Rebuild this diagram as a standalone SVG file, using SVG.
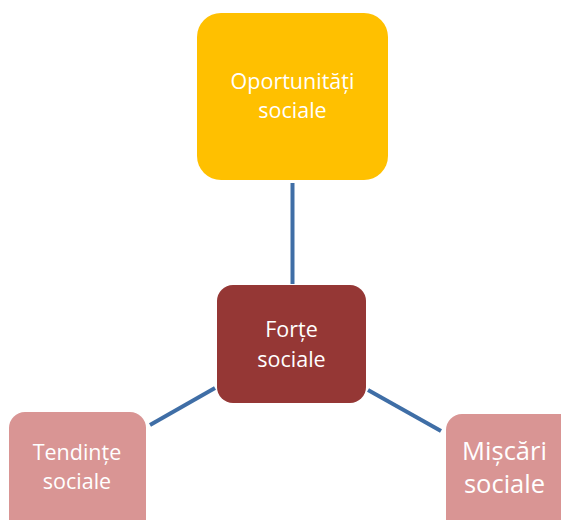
<svg xmlns="http://www.w3.org/2000/svg" width="561" height="520" viewBox="0 0 561 520">
<style>
.lbl{font-family:"Open Sans","Noto Sans",sans-serif;fill:#ffffff;text-anchor:middle;font-size:21.5px}
.big{font-size:25.5px}
.conn line{stroke:#3f6ea6;stroke-width:4;stroke-linecap:butt}
</style>
<rect width="561" height="520" fill="#ffffff"/>
<g class="conn" id="connectors">
<line x1="292.5" y1="183" x2="292.5" y2="284"/>
<line x1="150" y1="425" x2="215" y2="388"/>
<line x1="368" y1="390" x2="441" y2="431"/>
</g>
<g id="oportunitati">
<rect x="197" y="13" width="191" height="167" rx="24" fill="#ffc000"/>
<text class="lbl" x="292.5" y="89">Oportunități</text>
<text class="lbl" x="292.5" y="118">sociale</text>
</g>
<g id="forte">
<rect x="217" y="285" width="149" height="118" rx="16" fill="#953735"/>
<text class="lbl" x="291.5" y="337">Forțe</text>
<text class="lbl" x="291.5" y="367">sociale</text>
</g>
<g id="tendinte">
<rect x="9" y="412" width="137" height="130" rx="16" fill="#d99594"/>
<text class="lbl" x="77" y="460">Tendințe</text>
<text class="lbl" x="77" y="489">sociale</text>
</g>
<g id="miscari">
<rect x="446" y="414" width="130" height="130" rx="16" fill="#d99594"/>
<text class="lbl big" x="504.5" y="460">Mișcări</text>
<text class="lbl big" x="504.5" y="493">sociale</text>
</g>
</svg>
